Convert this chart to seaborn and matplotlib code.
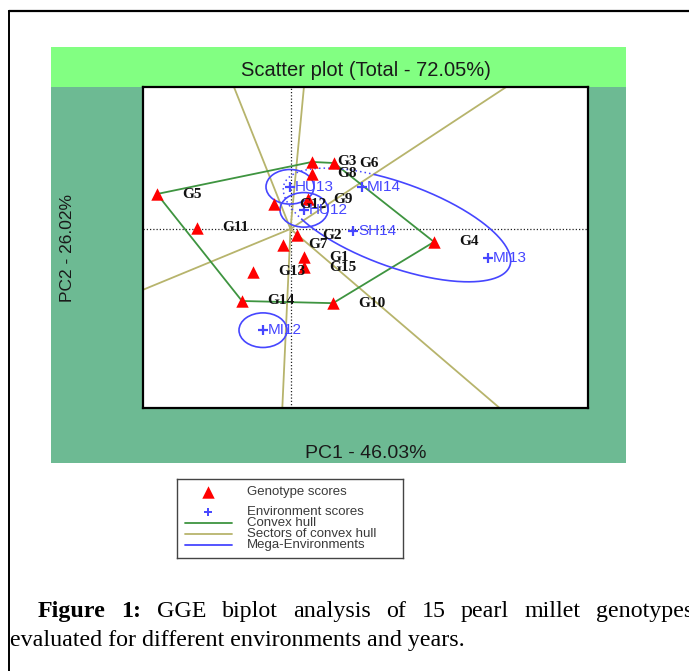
import numpy as np
import pandas as pd
import matplotlib
matplotlib.use("Agg")
import matplotlib.pyplot as plt
from matplotlib.patches import Rectangle, Circle
import seaborn as sns

# ---- data -------------------------------------------------------------
genotypes = ["G1", "G2", "G3", "G4", "G5", "G6", "G7", "G8", "G9", "G10",
             "G11", "G12", "G13", "G14", "G15"]
gen_pc1 = [0.27, 0.13, 0.43, 2.87, -2.67, 0.87, -0.15, 0.43, 0.35, 0.85,
           -1.87, -0.33, -0.75, -0.97, 0.27]
gen_pc2 = [-0.78, -0.17, 1.86, -0.36, 0.97, 1.83, -0.44, 1.53, 0.83, -2.06,
           0.03, 0.69, -1.19, -2.00, -1.06]

environments = ["HU12", "HU13", "MI12", "MI13", "MI14", "SH14"]
env_pc1 = [0.27, -0.01, -0.55, 3.95, 1.43, 1.25]
env_pc2 = [0.53, 1.17, -2.81, -0.81, 1.17, -0.06]

pc1_pct = 46.03
pc2_pct = 26.02

# mega-environments: single environments get a circle, the MI14/SH14/MI13
# group gets an ellipse
single_env_groups = ["HU13", "HU12", "MI12"]
single_env_radius = 0.48
wide_group_center = (2.13, 0.11)
wide_group_axes = (2.54, 1.10)
wide_group_angle = -29.6

legend_labels = ["Genotype scores", "Environment scores", "Convex hull",
                 "Sectors of convex hull", "Mega-Environments"]

caption_line1 = ["Figure", "1:", "GGE", "biplot", "analysis", "of", "15",
                 "pearl", "millet", "genotypes"]
caption_line2 = "evaluated for different environments and years."

# ---- style ------------------------------------------------------------
sns.set_style("white")
plt.rcParams["font.family"] = ["Liberation Sans", "DejaVu Sans"]

RED = "#FF0000"
BLUE = "#4646FF"
HULL = "#3E9440"
SECTOR = "#B7B46C"
LIGHT_GREEN = "#82FF82"
DARK_GREEN = "#6DBA93"
INK = "#1a1a1a"

W, H = 689, 671
fig = plt.figure(figsize=(W / 100, H / 100), dpi=100)
fig.patch.set_facecolor("white")

# page layer in pixel coordinates
bg = fig.add_axes([0, 0, 1, 1], zorder=0)
bg.set_xlim(0, W)
bg.set_ylim(H, 0)
bg.axis("off")
bg.add_patch(Rectangle((51, 47), 575, 40, color=LIGHT_GREEN, lw=0))
bg.add_patch(Rectangle((51, 87), 575, 376, color=DARK_GREEN, lw=0))
bg.plot([9, 9], [11, H], color="black", lw=1.4, clip_on=False)
bg.plot([9, W], [11, 11], color="black", lw=1.6, clip_on=False)


def px_rect(x0, y0, x1, y1):
    return [x0 / W, 1 - y1 / H, (x1 - x0) / W, (y1 - y0) / H]


ax = fig.add_axes(px_rect(143, 87, 588, 408), zorder=2)
ax.set_facecolor("white")
ax.set_xlim(-2.95, 5.95)
ax.set_ylim(-4.97, 3.94)

# reference axes through the origin
ax.axhline(0, color="#222222", lw=0.9, ls=(0, (1, 1.6)), zorder=1)
ax.axvline(0, color="#222222", lw=0.9, ls=(0, (1, 1.6)), zorder=1)


def convex_hull(points):
    pts = sorted(set(points))

    def cross(o, a, b):
        return (a[0] - o[0]) * (b[1] - o[1]) - (a[1] - o[1]) * (b[0] - o[0])

    lower, upper = [], []
    for p in pts:
        while len(lower) >= 2 and cross(lower[-2], lower[-1], p) <= 0:
            lower.pop()
        lower.append(p)
    for p in reversed(pts):
        while len(upper) >= 2 and cross(upper[-2], upper[-1], p) <= 0:
            upper.pop()
        upper.append(p)
    return lower[:-1] + upper[:-1]


hull = convex_hull(list(zip(gen_pc1, gen_pc2)))
hull_closed = hull + [hull[0]]

# sector lines: rays from the origin perpendicular to each hull edge
for p, q in zip(hull_closed[:-1], hull_closed[1:]):
    p = np.array(p)
    q = np.array(q)
    d = q - p
    foot = p - (p @ d) / (d @ d) * d
    far = foot * 60
    ax.plot([0, far[0]], [0, far[1]], color=SECTOR, lw=1.3, zorder=2)

# convex hull
hx, hy = zip(*hull_closed)
ax.plot(hx, hy, color=HULL, lw=1.3, zorder=3)

# mega-environments
env_lookup = dict(zip(environments, zip(env_pc1, env_pc2)))
for name in single_env_groups:
    ax.add_patch(Circle(env_lookup[name], single_env_radius, fill=False,
                        ec=BLUE, lw=1.2, zorder=3))


def ellipse_points(t_deg):
    t = np.radians(t_deg)
    a, b = wide_group_axes
    th = np.radians(wide_group_angle)
    lx, ly = a * np.cos(t), b * np.sin(t)
    x = wide_group_center[0] + lx * np.cos(th) - ly * np.sin(th)
    y = wide_group_center[1] + lx * np.sin(th) + ly * np.cos(th)
    return x, y


ex, ey = ellipse_points(np.linspace(227, 475, 300))
ax.plot(ex, ey, color=BLUE, lw=1.2, zorder=3)
ex, ey = ellipse_points(np.linspace(115, 227, 120))
ax.plot(ex, ey, color=BLUE, lw=1.1, ls=(0, (1, 2)), zorder=3)

# scores
gen_df = pd.DataFrame({"PC1": gen_pc1, "PC2": gen_pc2, "label": genotypes})
env_df = pd.DataFrame({"PC1": env_pc1, "PC2": env_pc2, "label": environments})

sns.scatterplot(data=gen_df, x="PC1", y="PC2", marker="^", s=80,
                color=RED, linewidth=0, ax=ax, zorder=5)
sns.scatterplot(data=env_df, x="PC1", y="PC2", marker="+", s=55,
                color=BLUE, linewidth=1.6, ax=ax, zorder=5)

for _, r in gen_df.iterrows():
    ax.annotate(r["label"], (r["PC1"], r["PC2"]), xytext=(18, 0),
                textcoords="offset points", ha="left", va="center",
                fontsize=11, fontweight="bold", color="#111111",
                family=["Liberation Serif", "DejaVu Serif"], zorder=6)
for _, r in env_df.iterrows():
    ax.annotate(r["label"], (r["PC1"], r["PC2"]), xytext=(3.5, 0),
                textcoords="offset points", ha="left", va="center",
                fontsize=11, color=BLUE, zorder=6)

ax.set_xticks([])
ax.set_yticks([])
ax.set_xlabel("")
ax.set_ylabel("")
for s in ax.spines.values():
    s.set_visible(True)
    s.set_color("black")
    s.set_linewidth(1.6)

# title and axis titles sit on the coloured frame around the panel
ax.text(0.5, 1 + 17 / 321, f"Scatter plot (Total - {pc1_pct + pc2_pct:.2f}%)",
        transform=ax.transAxes, ha="center", va="center", fontsize=14.5,
        color=INK, clip_on=False)
ax.text(0.5, -45 / 321, f"PC1 - {pc1_pct:.2f}%", transform=ax.transAxes,
        ha="center", va="center", fontsize=14, color=INK, clip_on=False)
ax.text(-76 / 445, 0.5, f"PC2 - {pc2_pct:.2f}%", transform=ax.transAxes,
        ha="center", va="center", rotation=90, fontsize=12.5, color=INK,
        clip_on=False)

# legend box
lg = fig.add_axes(px_rect(177, 479, 403, 558), zorder=2)
lg.set_xlim(177, 403)
lg.set_ylim(558, 479)
lg.set_xticks([])
lg.set_yticks([])
lg.set_facecolor("white")
for s in lg.spines.values():
    s.set_visible(True)
    s.set_color("#444444")
    s.set_linewidth(1.0)
rows = [492, 512, 523, 534, 545]
lg.scatter([208], [rows[0]], marker="^", s=80, color=RED, linewidths=0)
lg.scatter([208], [rows[1]], marker="+", s=40, color=BLUE, linewidths=1.4)
for yy, col in zip(rows[2:], [HULL, SECTOR, BLUE]):
    lg.plot([185, 232], [yy, yy], color=col, lw=1.3)
for yy, txt in zip(rows, legend_labels):
    lg.text(247, yy, txt, ha="left", va="center", fontsize=9.5,
            color="#3a3a3a")

# caption
serif = ["Liberation Serif", "DejaVu Serif"]
fig.canvas.draw()
renderer = fig.canvas.get_renderer()

probe = bg.text(10, 646, caption_line2, fontsize=17, family=serif,
                ha="left", va="baseline", color="black")
w = probe.get_window_extent(renderer).width
cap_size = 17 * 455 / w
probe.set_fontsize(cap_size)

words = []
for i, word in enumerate(caption_line1):
    t = bg.text(0, 617, word, fontsize=cap_size, family=serif,
                fontweight="bold" if i < 2 else "normal",
                ha="left", va="baseline", color="black", clip_on=False)
    words.append(t)
widths = [t.get_window_extent(renderer).width for t in words]
# justified line: the column runs slightly past the right page edge
start, line_end = 38, 693
gap = (line_end - start - sum(widths)) / (len(words) - 1)
x = start
for t, wd in zip(words, widths):
    t.set_x(x)
    x += wd + gap

fig.savefig("out.png", dpi=100, facecolor="white")
